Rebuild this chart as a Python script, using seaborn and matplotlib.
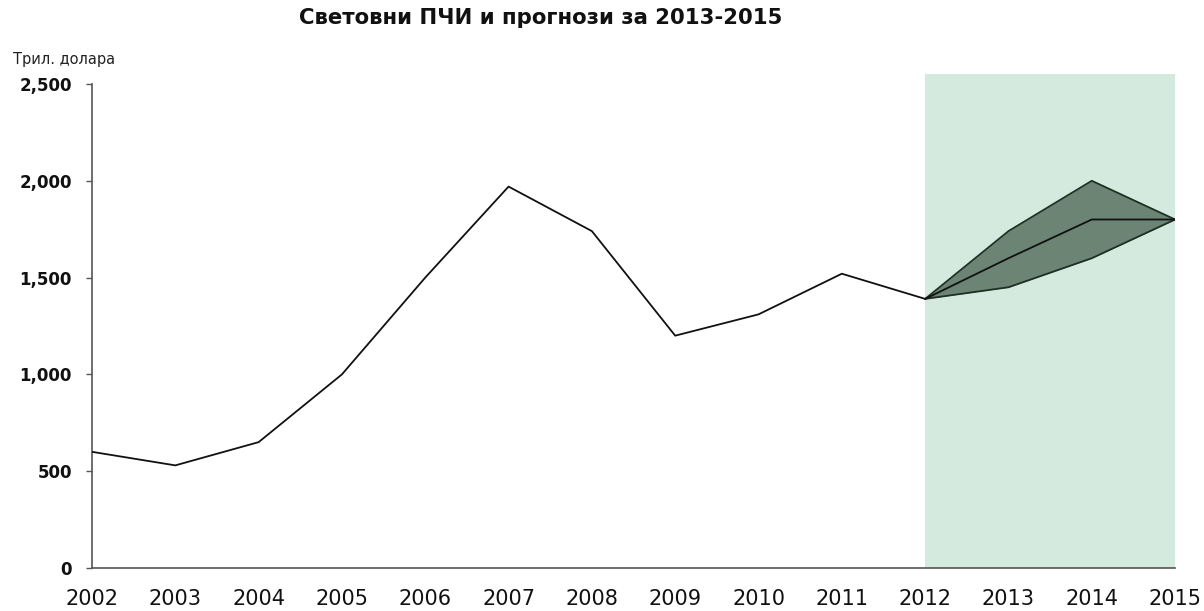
import matplotlib
matplotlib.use("Agg")
import matplotlib.pyplot as plt
import seaborn as sns
import pandas as pd
from matplotlib.ticker import FuncFormatter

years = [2002, 2003, 2004, 2005, 2006, 2007, 2008, 2009, 2010, 2011, 2012]
fdi = [600, 530, 650, 1000, 1500, 1970, 1740, 1200, 1310, 1520, 1390]

fc_years = [2012, 2013, 2014, 2015]
fc_upper = [1390, 1740, 2000, 1800]
fc_mid = [1390, 1600, 1800, 1800]
fc_lower = [1390, 1450, 1600, 1800]

sns.set_theme(style="white")
plt.rcParams["font.family"] = ["DejaVu Sans"]

fig = plt.figure(figsize=(12.04, 6.11), dpi=100)
ax = fig.add_axes([0.0764, 0.0704, 0.8996, 0.808])

# forecast band
ax.axvspan(2012, 2015, color="#d5eadf", zorder=0, lw=0)

ax.fill_between(fc_years, fc_lower, fc_upper, color="#6b8474", zorder=1, lw=0)
for s in [fc_upper, fc_lower]:
    ax.plot(fc_years, s, color="#1e3024", lw=1.3, zorder=2)

df = pd.DataFrame({"year": years, "value": fdi})
sns.lineplot(data=df, x="year", y="value", ax=ax, color="#111111", lw=1.3, zorder=3)
ax.plot(fc_years, fc_mid, color="#111111", lw=1.3, zorder=3)

ax.set_xlim(2002, 2015)
ax.set_ylim(0, 2550)
ax.set_xticks(years + [2013, 2014, 2015])
ax.set_yticks([0, 500, 1000, 1500, 2000, 2500])
ax.yaxis.set_major_formatter(FuncFormatter(lambda v, p: f"{int(v):,}"))
ax.set_xlabel("")
ax.set_ylabel("")

for side in ["top", "right"]:
    ax.spines[side].set_visible(False)
for side in ["left", "bottom"]:
    ax.spines[side].set_color("#555555")
    ax.spines[side].set_linewidth(1.2)
ax.spines["left"].set_bounds(0, 2500)

ax.tick_params(axis="y", which="major", length=4.5, width=1, color="#555555",
               direction="out", left=True, labelsize=12, pad=10, labelcolor="#111111")
ax.tick_params(axis="x", length=0, labelsize=15, pad=15, labelcolor="#111111")
for lab in ax.get_yticklabels():
    lab.set_fontweight("bold")

fig.text(0.449, 0.9705, "Световни ПЧИ и прогнози за 2013-2015", ha="center", va="center",
         fontsize=15.3, fontweight="bold", color="#111111")
fig.text(0.011, 0.902, "Трил. долара", ha="left", va="center", fontsize=10.5, color="#222222")

fig.savefig("out.png", dpi=100)
